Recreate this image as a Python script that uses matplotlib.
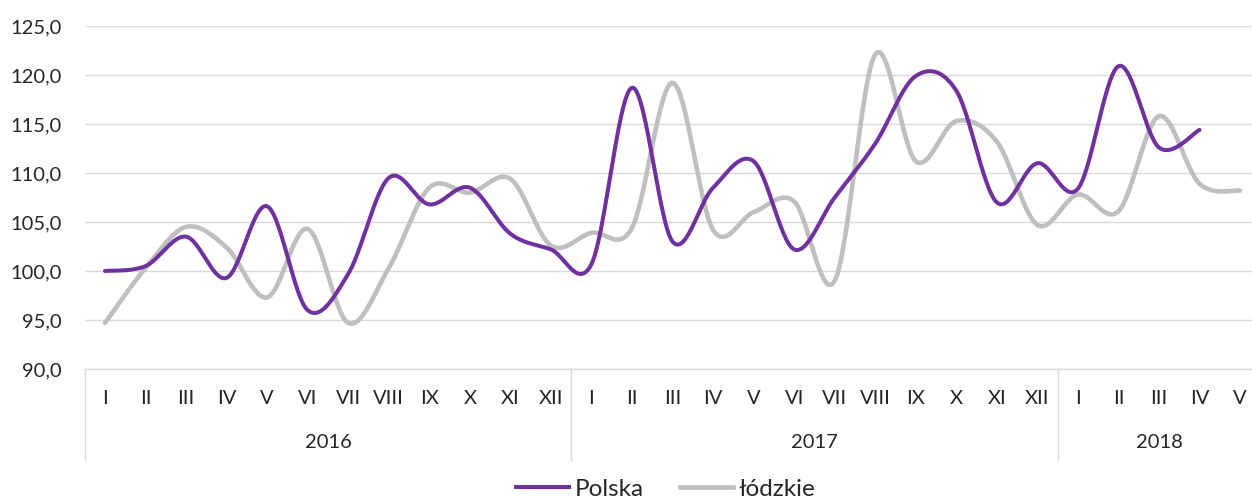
import numpy as np
import matplotlib
matplotlib.use("Agg")
import matplotlib.pyplot as plt
from matplotlib.lines import Line2D

plt.rcParams['font.family'] = ['Lato', 'DejaVu Sans']

months = ["I", "II", "III", "IV", "V", "VI", "VII", "VIII", "IX", "X", "XI", "XII",
          "I", "II", "III", "IV", "V", "VI", "VII", "VIII", "IX", "X", "XI", "XII",
          "I", "II", "III", "IV", "V"]
years = ["2016", "2017", "2018"]
year_lengths = [12, 12, 5]

polska = [100.0, 100.5, 103.5, 99.3, 106.6, 96.0, 99.7, 109.5, 106.8, 108.5, 103.8, 102.2,
          100.7, 118.7, 103.0, 108.5, 111.2, 102.2, 107.5, 113.0, 119.9, 118.4, 107.0, 111.0,
          108.4, 120.9, 112.6, 114.4]
lodzkie = [94.7, 100.3, 104.5, 102.4, 97.3, 104.3, 94.7, 100.3, 108.5, 108.0, 109.4, 102.6,
           103.9, 104.4, 119.2, 104.2, 106.0, 107.1, 99.0, 122.1, 111.2, 115.3, 113.2, 104.7,
           107.8, 106.1, 115.8, 108.9, 108.2]

PURPLE = "#7030A0"
GREY = "#BFBFBF"
GRID = "#D9D9D9"
TXT = "#262626"


def smooth(y, n=30):
    """Excel-like smoothed line: cubic Bezier with Catmull-Rom tangents."""
    y = np.asarray(y, float)
    x = np.arange(len(y), dtype=float)
    pts = np.column_stack([x, y])
    out = []
    for i in range(len(pts) - 1):
        p0 = pts[i - 1] if i > 0 else pts[i]
        p1 = pts[i]
        p2 = pts[i + 1]
        p3 = pts[i + 2] if i + 2 < len(pts) else pts[i + 1]
        c1 = p1 + (p2 - p0) / 6.0
        c2 = p2 - (p3 - p1) / 6.0
        t = np.linspace(0, 1, n, endpoint=(i == len(pts) - 2))[:, None]
        seg = ((1 - t) ** 3) * p1 + 3 * ((1 - t) ** 2) * t * c1 + 3 * (1 - t) * t ** 2 * c2 + t ** 3 * p2
        out.append(seg)
    seg = np.vstack(out)
    return seg[:, 0], seg[:, 1]


W, H = 1252, 500
fig = plt.figure(figsize=(W / 100, H / 100), dpi=100)
left_px, right_px, top_px, bot_px = 84.7, 1252, 26, 369
ax = fig.add_axes([left_px / W, (H - bot_px) / H, (right_px - left_px) / W, (bot_px - top_px) / H])

step = 40.54
ax.set_xlim(-0.5, -0.5 + (right_px - left_px) / step)
ax.set_ylim(90, 125)

ax.set_yticks(np.arange(90, 126, 5))
ax.set_yticklabels([f"{v:.1f}".replace(".", ",") for v in np.arange(90, 126, 5)],
                   fontsize=14.5, color=TXT)
ax.tick_params(axis='y', length=0, pad=16.5)
ax.set_xticks([])
ax.grid(axis='y', color=GRID, linewidth=1.0)
ax.set_axisbelow(True)
for s in ["top", "right", "left"]:
    ax.spines[s].set_visible(False)
ax.spines["bottom"].set_color(GRID)
ax.spines["bottom"].set_linewidth(1.0)

xs, ys = smooth(lodzkie)
ax.plot(xs, ys, color=GREY, lw=3.3, solid_capstyle='round', zorder=3)
xs, ys = smooth(polska)
ax.plot(xs, ys, color=PURPLE, lw=2.9, solid_capstyle='round', zorder=4)

trans = ax.get_xaxis_transform()
ah = bot_px - top_px
y_month = -(399 - bot_px) / ah
y_year = -(443 - bot_px) / ah
y_sep = -(460 - bot_px) / ah

for i, m in enumerate(months):
    ax.text(i, y_month, m, transform=trans, ha='center', va='center', fontsize=14.5, color=TXT)

start = 0
bounds = [-0.5]
for yl, n in zip(years, year_lengths):
    ax.text(start + (n - 1) / 2, y_year, yl, transform=trans, ha='center', va='center',
            fontsize=14.5, color=TXT)
    start += n
    bounds.append(start - 0.5)
for b in bounds[:-1]:
    ax.plot([b, b], [0, y_sep], transform=trans, color=GRID, lw=1.0, clip_on=False)

handles = [Line2D([], [], color=PURPLE, lw=2.9), Line2D([], [], color=GREY, lw=3.3)]
fig.legend(handles, ["Polska", "łódzkie"], loc='center', bbox_to_anchor=(665.5 / W, (H - 489) / H),
           ncol=2, frameon=False, fontsize=17.5, handlelength=2.2, handletextpad=0.2,
           columnspacing=1.5, labelcolor=TXT, borderpad=0.1)

fig.savefig("out.png", dpi=100)
